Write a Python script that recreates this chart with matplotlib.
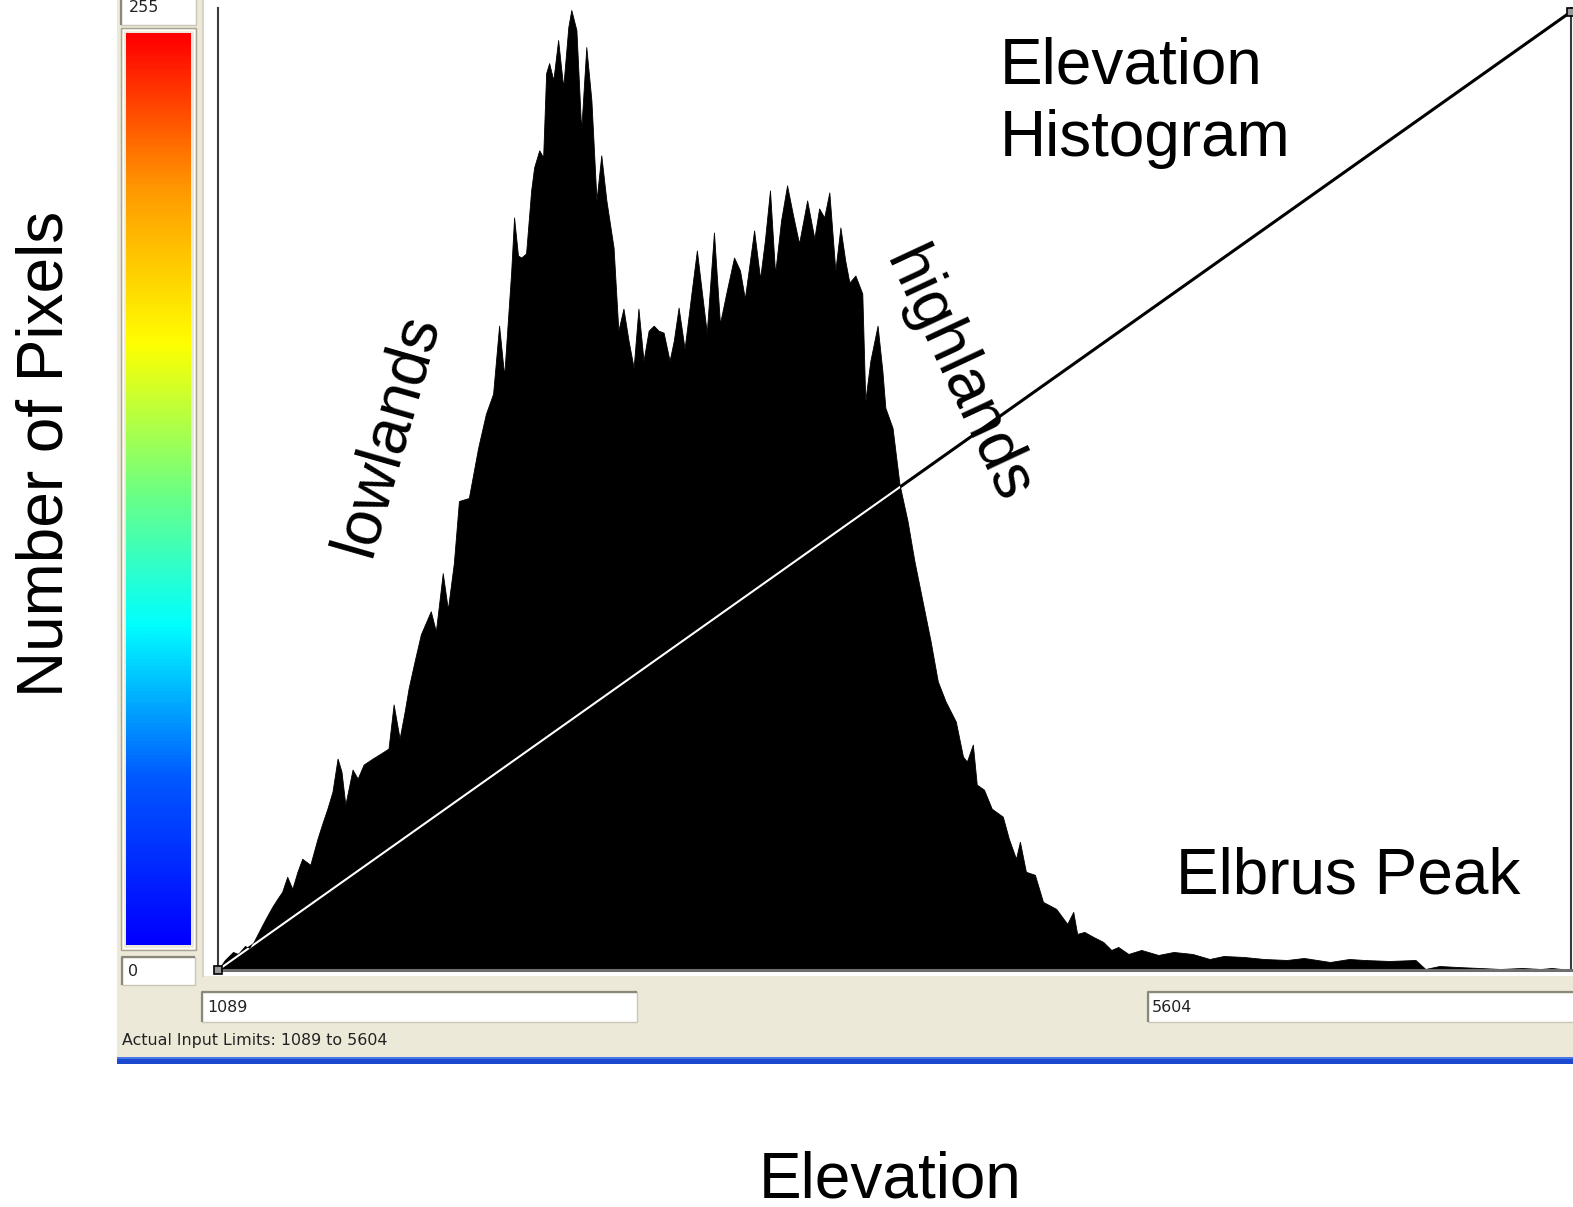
import numpy as np
import matplotlib.pyplot as plt
from matplotlib.patches import Rectangle
from matplotlib.colors import LinearSegmentedColormap

W, H = 1573, 1207

# histogram outline: elevation (m) and pixel count (arbitrary units) at traced break points
elev = [1089, 1112, 1139, 1156, 1179, 1196, 1220, 1246, 1270, 1287, 1303, 1320, 1337, 1354,
        1370, 1397, 1421, 1437, 1454, 1471, 1488, 1501, 1514, 1538, 1555, 1575, 1605, 1632,
        1658, 1675, 1695, 1712, 1725, 1745, 1766, 1799, 1816, 1839, 1856, 1876, 1893, 1926,
        1957, 1983, 2007, 2027, 2044, 2057, 2067, 2077, 2090, 2101, 2117, 2134, 2144, 2161,
        2174, 2184, 2194, 2208, 2224, 2241, 2258, 2268, 2285, 2301, 2318, 2335, 2352, 2368,
        2385, 2409, 2425, 2442, 2459, 2476, 2492, 2509, 2526, 2543, 2559, 2576, 2596, 2610,
        2626, 2646, 2670, 2687, 2703, 2720, 2744, 2764, 2787, 2811, 2831, 2847, 2878, 2898,
        2914, 2931, 2948, 2968, 2988, 3008, 3028, 3055, 3079, 3095, 3112, 3129, 3149, 3166,
        3182, 3196, 3216, 3239, 3249, 3266, 3290, 3306, 3316, 3340, 3363, 3390, 3413, 3440,
        3467, 3491, 3517, 3551, 3575, 3588, 3608, 3621, 3645, 3671, 3708, 3728, 3752, 3765,
        3785, 3815, 3842, 3886, 3923, 3943, 3956, 3980, 4010, 4043, 4070, 4093, 4127, 4170,
        4227, 4278, 4341, 4398, 4445, 4512, 4579, 4656, 4713, 4800, 4864, 4914, 4998, 5085,
        5118, 5165, 5225, 5299, 5369, 5440, 5503, 5540, 5604]
counts = [0, 10, 18, 16, 24, 21, 35, 50, 63, 71, 78, 93, 81, 98,
          111, 105, 131, 146, 161, 178, 211, 198, 165, 200, 191, 205, 211, 216,
          221, 265, 231, 258, 281, 308, 335, 358, 338, 396, 360, 406, 468, 471,
          521, 555, 575, 643, 593, 651, 695, 751, 713, 711, 715, 778, 801, 818,
          811, 895, 905, 888, 928, 881, 941, 958, 938, 838, 921, 868, 768, 813,
          768, 721, 638, 660, 628, 601, 660, 608, 638, 643, 638, 636, 608, 628,
          661, 620, 678, 718, 678, 636, 736, 645, 678, 711, 698, 670, 738, 690,
          728, 778, 695, 748, 783, 753, 725, 768, 730, 760, 751, 776, 698, 741,
          708, 686, 693, 675, 568, 608, 643, 598, 561, 541, 485, 448, 408, 368,
          328, 288, 268, 248, 213, 208, 225, 185, 180, 161, 153, 131, 111, 128,
          98, 95, 68, 61, 46, 58, 36, 38, 33, 28, 20, 23, 16, 20,
          15, 18, 16, 11, 14, 13, 11, 10, 12, 8, 11, 10, 9, 10,
          1, 4, 3, 2, 1, 2, 1, 2, 0]

elev_min, elev_max = 1089, 5604
lut_in = [1089, 5604]
lut_out = [0, 255]
cbar_vals = np.arange(256)

BEIGE = "#ECE9D8"

fig = plt.figure(figsize=(W / 100, H / 100), dpi=100)
fig.patch.set_facecolor("white")

# background canvas in pixel units
bg = fig.add_axes([0, 0, 1, 1])
bg.set_xlim(0, W)
bg.set_ylim(H, 0)
bg.axis("off")


def rect(x0, y0, x1, y1, **kw):
    bg.add_patch(Rectangle((x0, y0), x1 - x0, y1 - y0, **kw))


def textbox(x0, y0, x1, y1):
    rect(x0, y0, x1, y1, facecolor="white", edgecolor="#C9C6B8", lw=1)
    bg.plot([x0, x0, x1], [y1, y0, y0], color="#8A8878", lw=1.6, solid_capstyle="butt")


# dialog panel
rect(117, 0, W, 1057, facecolor=BEIGE, edgecolor="none")
rect(117, 1057, W, 1064, facecolor="#1A48CF", edgecolor="none")
rect(117, 1057, W, 1059, facecolor="#4A78E8", edgecolor="none")
# plot area
rect(203, 0, W, 976, facecolor="white", edgecolor="none")
bg.plot([203, 203], [0, 976], color="#D8D5C8", lw=1.5)

# colour bar
rect(121, 28, 196, 950, facecolor=BEIGE, edgecolor="#A8A595", lw=1)
rect(123, 30, 194, 948, facecolor="none", edgecolor="white", lw=1)
cmap = LinearSegmentedColormap.from_list(
    "lut", [(0.0, "#0000ff"), (0.18, "#0058ff"), (0.35, "#00ffff"), (0.5, "#70ff80"),
            (0.66, "#ffff00"), (0.83, "#ff9a00"), (1.0, "#ff0000")])
bg.imshow(cbar_vals.reshape(-1, 1), cmap=cmap, origin="lower", aspect="auto",
          extent=(126, 191, 945, 33), interpolation="bilinear", zorder=5)
bg.set_xlim(0, W)
bg.set_ylim(H, 0)

small = dict(family="DejaVu Sans", fontsize=11.4, color="#222222")
textbox(121, -10, 196, 25)
bg.text(129, 12, "255", va="baseline", **small)
textbox(122, 957, 195, 985)
bg.text(128, 971, "0", va="center", **small)
textbox(202, 992, 637, 1022)
bg.text(207, 1007, f"{elev_min}", va="center", **small)
textbox(1148, 992, W + 5, 1022)
bg.text(1152, 1007, f"{elev_max}", va="center", **small)
bg.text(122, 1041, f"Actual Input Limits: {elev_min} to {elev_max}", va="center", **small)

# histogram
ax = fig.add_axes([218 / W, 1 - 970 / H, (1571 - 218) / W, (970 - 8) / H])
ax.set_facecolor("none")
poly = ax.fill_between(elev, counts, color="black", lw=0.6, edgecolor="black")
ax.set_xlim(elev_min, elev_max)
ax.set_ylim(0, 960)
ax.set_xticks([])
ax.set_yticks([])
ax.spines["top"].set_visible(False)
for s in ["left", "right"]:
    ax.spines[s].set_color("#3A3A3A")
    ax.spines[s].set_linewidth(1.5)
ax.spines["bottom"].set_color("#6E6E6E")
ax.spines["bottom"].set_linewidth(2.2)

# stretch (lookup) line
ax2 = ax.twinx()
ax2.set_ylim(0, 256)
ax2.set_yticks([])
for s in ax2.spines.values():
    s.set_visible(False)
ax2.plot(lut_in, lut_out, color="black", lw=2.2)
white, = ax2.plot(lut_in, lut_out, color="white", lw=1.5)
white.set_clip_path(poly.get_paths()[0], ax.transData)
ax2.plot(lut_in, lut_out, ls="none", marker="s", ms=6, mfc="#999999", mec="black",
         mew=1.2, clip_on=False)

# annotations
big = dict(family=["Liberation Sans", "DejaVu Sans"], fontsize=46, color="black")


def ftext(x, y, s, **kw):
    fig.text(x / W, 1 - y / H, s, zorder=10, **kw)


ftext(63, 454, "Number of Pixels", rotation=90, rotation_mode="anchor",
      ha="center", va="baseline", **big)
ftext(890, 1197, "Elevation", ha="center", va="baseline", **big)
ftext(1000, 83, "Elevation", ha="left", va="baseline", **big)
ftext(1000, 156, "Histogram", ha="left", va="baseline", **big)
ftext(1176, 894, "Elbrus Peak", ha="left", va="baseline", **big)
ftext(387, 434, "lowlands", rotation=74, rotation_mode="anchor",
      ha="center", va="center", **big)
ftext(957, 376, "highlands", rotation=-65, rotation_mode="anchor",
      ha="center", va="center", **big)

fig.savefig("out.png", dpi=100)
